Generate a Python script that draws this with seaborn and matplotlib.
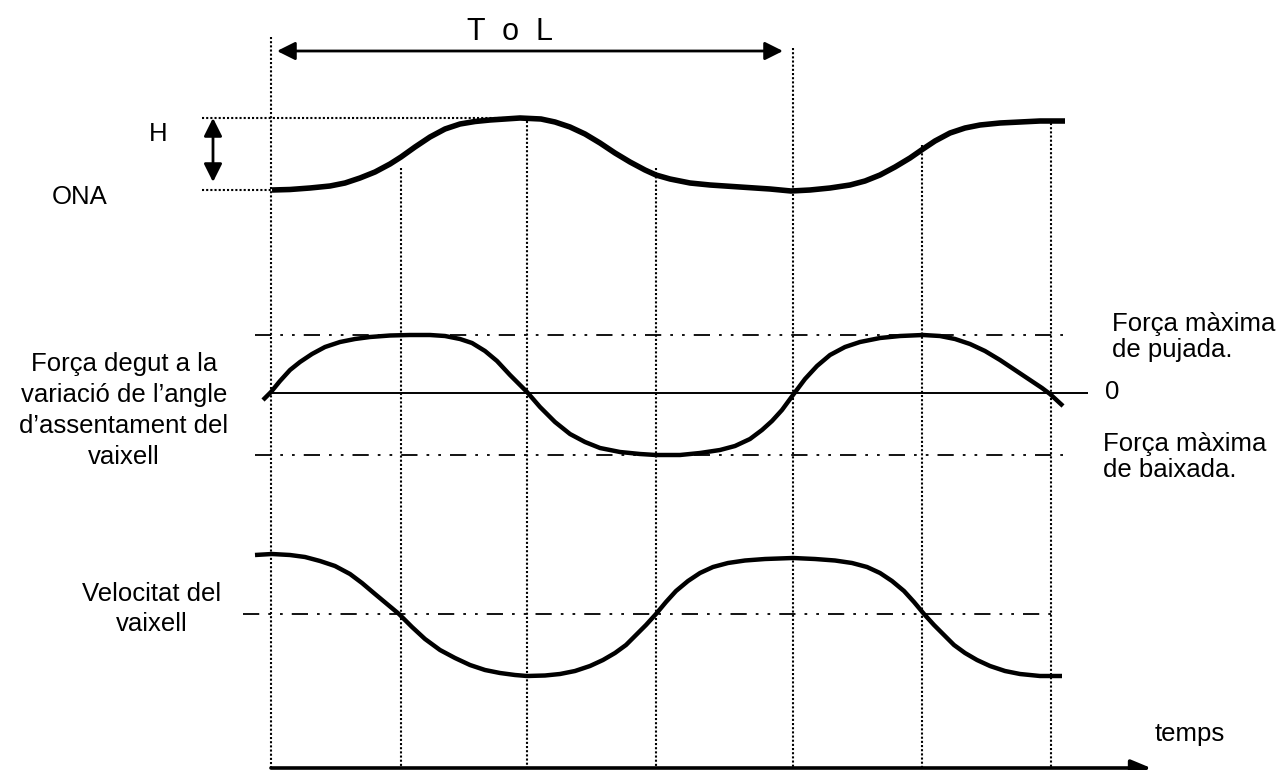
import numpy as np
import pandas as pd
import matplotlib
matplotlib.use("Agg")
import matplotlib.pyplot as plt
import seaborn as sns

# --- values (pixel space, y grows downwards) ---
ona_x = [272, 290, 310, 330, 345, 360, 375, 390, 401, 415, 430, 445, 460, 475, 490, 505,
         520, 541, 555, 570, 585, 600, 615, 630, 645, 656, 670, 690, 710, 740, 770, 791,
         810, 830, 850, 865, 880, 895, 910, 923, 935, 950, 965, 980, 1000, 1020, 1040, 1065]
ona_y = [190, 189.5, 188, 186, 183, 178, 172, 164, 157, 147, 137, 129, 124, 121.5, 120, 119,
         118, 119, 122, 127, 134, 143, 153, 162, 170, 175, 179, 183, 185, 187, 189, 191,
         190, 188, 185, 181, 175, 167, 158, 149, 141, 133, 128, 125, 123, 122, 121, 121]

force_x = [263, 271, 280, 290, 300, 312, 325, 340, 355, 370, 390, 410, 430, 445, 460, 472,
           485, 497, 510, 527, 540, 555, 570, 585, 600, 620, 640, 656, 680, 700, 720, 735,
           750, 762, 772, 782, 793, 805, 817, 830, 845, 860, 880, 900, 923, 940, 955, 970,
           985, 1000, 1015, 1030, 1042, 1050, 1063]
force_y = [400, 392, 381, 370, 362, 354, 347, 342, 339, 337, 335.5, 335, 335, 336, 339, 343,
           351, 361, 375, 392, 407, 422, 434, 442, 448, 452, 454, 455, 455, 453, 450, 446,
           439, 430, 421, 410, 395, 379, 366, 355, 347, 342, 338, 336, 335, 336, 339, 344,
           351, 360, 370, 380, 388, 394, 406]

vel_x = [255, 272, 290, 305, 320, 335, 350, 362, 375, 387, 399, 412, 425, 440, 455, 470,
         485, 500, 515, 527, 545, 560, 575, 590, 603, 615, 626, 636, 646, 656, 666, 676,
         688, 700, 713, 728, 745, 765, 793, 815, 835, 852, 867, 880, 892, 904, 914,
         924, 934, 944, 954, 965, 977, 990, 1005, 1020, 1040, 1062]
vel_y = [555, 554, 555, 557, 561, 566, 574, 583, 594, 604, 614, 627, 639, 650, 658, 665,
         670, 673, 675, 676, 675.5, 674, 671, 666, 660, 653, 645, 635, 625, 614, 602, 591,
         581, 573, 567, 563, 560.5, 559, 558, 559, 560.5, 563, 567, 573, 581, 591, 602,
         614, 625, 635, 645, 653, 660, 666, 671, 674, 676, 676]

# vertical time guides: position and where each starts
guide_x = [271, 401, 527, 656, 793, 922, 1051]
guide_top = [37, 168, 121, 168, 48, 145, 123]

# horizontal reference levels
force_max_up = 335
force_zero = 393
force_max_down = 455
vel_mean = 614
h_top, h_bottom = 118, 190

df = pd.concat([
    pd.DataFrame({"x": ona_x, "y": ona_y, "serie": "ONA"}),
    pd.DataFrame({"x": force_x, "y": force_y, "serie": "Força"}),
    pd.DataFrame({"x": vel_x, "y": vel_y, "serie": "Velocitat"}),
])

sns.set_style("white")
plt.rcParams["font.family"] = ["Liberation Sans", "DejaVu Sans"]
plt.rcParams["text.color"] = "black"

fig = plt.figure(figsize=(12.83, 7.70), dpi=100)
ax = fig.add_axes([0, 0, 1, 1])

dashdotdot = (0, (9, 5, 1.5, 5, 1.5, 5))
dotted = (0, (1, 1))

# dotted guides
ax.vlines(guide_x, guide_top, 768, colors="black", linestyles=dotted, linewidth=1.5)

# H guides
ax.hlines(h_top, 202, 512, colors="black", linestyles=dotted, linewidth=1.5)
ax.hlines(h_bottom, 202, 271, colors="black", linestyles=dotted, linewidth=1.5)

# reference levels
ax.hlines([force_max_up, force_max_down], 255, 1067, colors="black",
          linestyles=[dashdotdot], linewidth=1.3)
ax.hlines(force_zero, 271, 1088, colors="black", linewidth=1.4)
ax.hlines(vel_mean, 243, 1060, colors="black", linestyles=[dashdotdot], linewidth=1.3)

# curves
for name, lw in [("ONA", 4.0), ("Força", 3.2), ("Velocitat", 3.2)]:
    sub = df[df["serie"] == name]
    sns.lineplot(data=sub, x="x", y="y", ax=ax, color="black", linewidth=lw,
                 sort=False, estimator=None, legend=False,
                 solid_joinstyle="round", solid_capstyle="butt")

ax.set_xlim(0, 1283)
ax.set_ylim(770, 0)
ax.axis("off")

# arrows
head = dict(arrowstyle="<|-|>,head_length=1.1,head_width=0.55", color="black", lw=2.0,
            shrinkA=0, shrinkB=0)
ax.annotate("", xy=(277, 51), xytext=(783, 51), arrowprops=head)
ax.annotate("", xy=(213, 118), xytext=(213, 182), arrowprops=head)
ax.annotate("", xy=(1151, 768), xytext=(271, 768),
            arrowprops=dict(arrowstyle="-|>,head_length=1.2,head_width=0.5", color="black",
                            lw=2.6, shrinkA=0, shrinkB=0))

# labels
fs = 18.5
ax.text(510, 40, "T  o  L", fontsize=22, ha="center", va="baseline")
ax.text(158, 141, "H", fontsize=fs, ha="center", va="baseline")
ax.text(80, 204, "ONA", fontsize=fs, ha="center", va="baseline")

for txt, y in [("Força degut a la", 362), ("variació de l’angle", 393),
               ("d’assentament del", 424), ("vaixell", 455)]:
    ax.text(124, y + 9, txt, fontsize=fs, ha="center", va="baseline")

for txt, y in [("Velocitat del", 592), ("vaixell", 622)]:
    ax.text(152, y + 9, txt, fontsize=fs, ha="center", va="baseline")

ax.text(1112, 322 + 9, "Força màxima", fontsize=fs, ha="left", va="baseline")
ax.text(1112, 348 + 9, "de pujada.", fontsize=fs, ha="left", va="baseline")
ax.text(1105, 390 + 9, "0", fontsize=fs, ha="left", va="baseline")
ax.text(1103, 442 + 9, "Força màxima", fontsize=fs, ha="left", va="baseline")
ax.text(1103, 468 + 9, "de baixada.", fontsize=fs, ha="left", va="baseline")
ax.text(1155, 732 + 9, "temps", fontsize=fs, ha="left", va="baseline")

fig.savefig("out.png", dpi=100)
plt.close(fig)
